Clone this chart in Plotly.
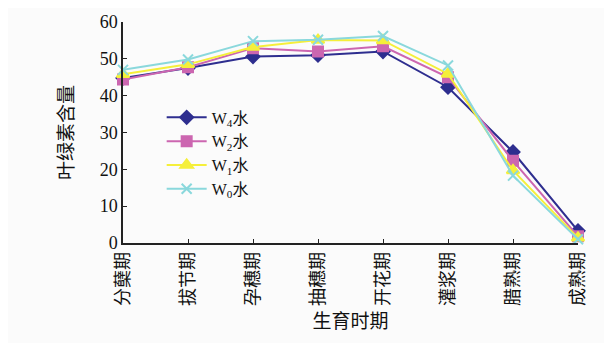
import plotly.graph_objects as go

categories = ["分蘖期", "拔节期", "孕穗期", "抽穗期", "开花期", "灌浆期", "腊熟期", "成熟期"]
w4 = [44.8, 47.5, 50.6, 51.0, 52.0, 42.3, 24.7, 3.3]
w2 = [44.4, 47.7, 52.9, 52.0, 53.4, 45.0, 22.3, 1.8]
w1 = [45.8, 48.5, 53.2, 55.1, 55.0, 45.9, 19.7, 1.4]
w0 = [47.0, 49.8, 54.8, 55.2, 56.2, 48.2, 18.3, 1.0]
y_ticks = [0, 10, 20, 30, 40, 50, 60]

series = [
    ("W<sub>4</sub>水", w4, "#2e2e8f", "diamond", 10),
    ("W<sub>2</sub>水", w2, "#cc66b0", "square", 10),
    ("W<sub>1</sub>水", w1, "#f5ef3a", "triangle-up", 11),
    ("W<sub>0</sub>水", w0, "#8ad8dc", "x-thin", 10),
]

fig = go.Figure()
for name, vals, color, sym, size in series:
    fig.add_trace(go.Scatter(
        x=list(range(len(categories))), y=vals, name=name, mode="lines+markers",
        line=dict(color=color, width=2),
        marker=dict(symbol=sym, size=size, color=color,
                    line=dict(color=color, width=2)),
        cliponaxis=False,
    ))

font_fam = "Liberation Serif, Noto Sans CJK SC, serif"
fig.update_layout(
    width=604, height=335,
    margin=dict(l=115, r=34, t=14, b=100),
    paper_bgcolor="#fbfbfb", plot_bgcolor="#fbfbfb",
    font=dict(family=font_fam, size=16, color="#111"),
    showlegend=True,
    legend=dict(x=0.085, y=0.645, xanchor="left", yanchor="top",
                bgcolor="rgba(0,0,0,0)", font=dict(size=16),
                tracegroupgap=0, itemwidth=40),
    xaxis=dict(
        tickmode="array", tickvals=list(range(len(categories))), ticktext=categories,
        range=[0, 7], tickangle=-90, showgrid=False, zeroline=False,
        showline=True, linecolor="#222", linewidth=1.5,
        ticks="inside", ticklen=4, tickcolor="#222",
        tickfont=dict(size=18, family="Noto Sans CJK SC"),
        title=dict(text="生育时期", font=dict(size=19, family="Noto Sans CJK SC"), standoff=9),
        automargin=False,
    ),
    yaxis=dict(
        range=[0, 60], tickvals=y_ticks, showgrid=False, zeroline=False,
        showline=True, linecolor="#222", linewidth=1.5,
        ticks="inside", ticklen=4, tickcolor="#222",
        tickfont=dict(size=18),
        title=dict(text="叶绿素含量", font=dict(size=19, family="Noto Sans CJK SC"), standoff=21),
        automargin=False,
    ),
)

fig.write_html("out.html")
